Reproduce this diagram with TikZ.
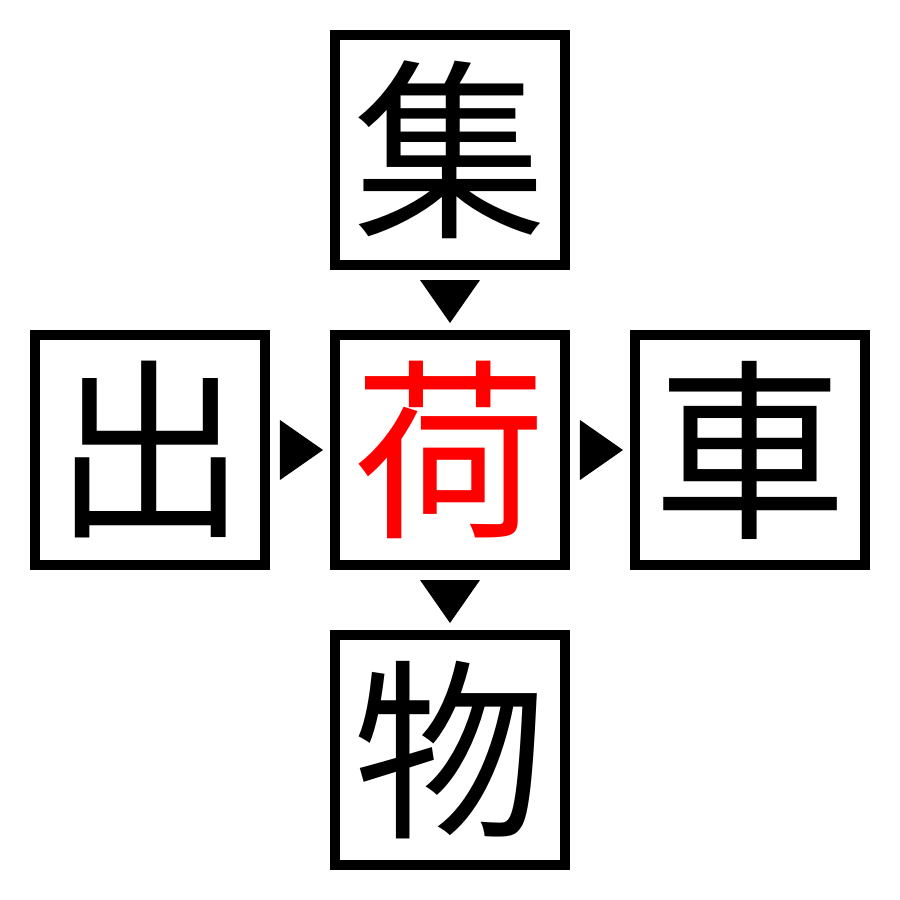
\documentclass[tikz,border=0pt]{standalone}
\usepackage{fontspec}
\usepackage{tikz}
\usetikzlibrary{positioning}
\usetikzlibrary{calc}
\newfontfamily\jpfont{Noto Sans CJK JP}
\tikzset{kbox/.style = {draw, line width = 1mm, minimum size = 2.3cm, inner sep = 0,
    font = \jpfont\fontsize{55}{55}\selectfont}}
\definecolor{kred}{rgb}{1, 0, 0}

\begin{document}
\begin{tikzpicture}
      \useasboundingbox (-4.5, -4.5) rectangle (4.5, 4.5);
      \node [kbox, text = kred] (mid) at (0, 0) {荷};
      \node [kbox] (top) at (0, 3) {集};
      \node [kbox] (left) at (-3, 0) {出};
      \node [kbox] (right) at (3, 0) {車};
      \node [kbox] (bottom) at (0, -3) {物};
      % arrow heads in the gaps
      \fill ($(top.south)!0.5!(mid.north)$) ++(-0.3, 0.2) -- ++(0.6, 0) -- ++(-0.3, -0.43) -- cycle;
      \fill ($(mid.south)!0.5!(bottom.north)$) ++(-0.3, 0.2) -- ++(0.6, 0) -- ++(-0.3, -0.43) -- cycle;
      \fill ($(left.east)!0.5!(mid.west)$) ++(-0.2, 0.3) -- ++(0, -0.6) -- ++(0.43, 0.3) -- cycle;
      \fill ($(mid.east)!0.5!(right.west)$) ++(-0.2, 0.3) -- ++(0, -0.6) -- ++(0.43, 0.3) -- cycle;
    \end{tikzpicture}
\end{document}
